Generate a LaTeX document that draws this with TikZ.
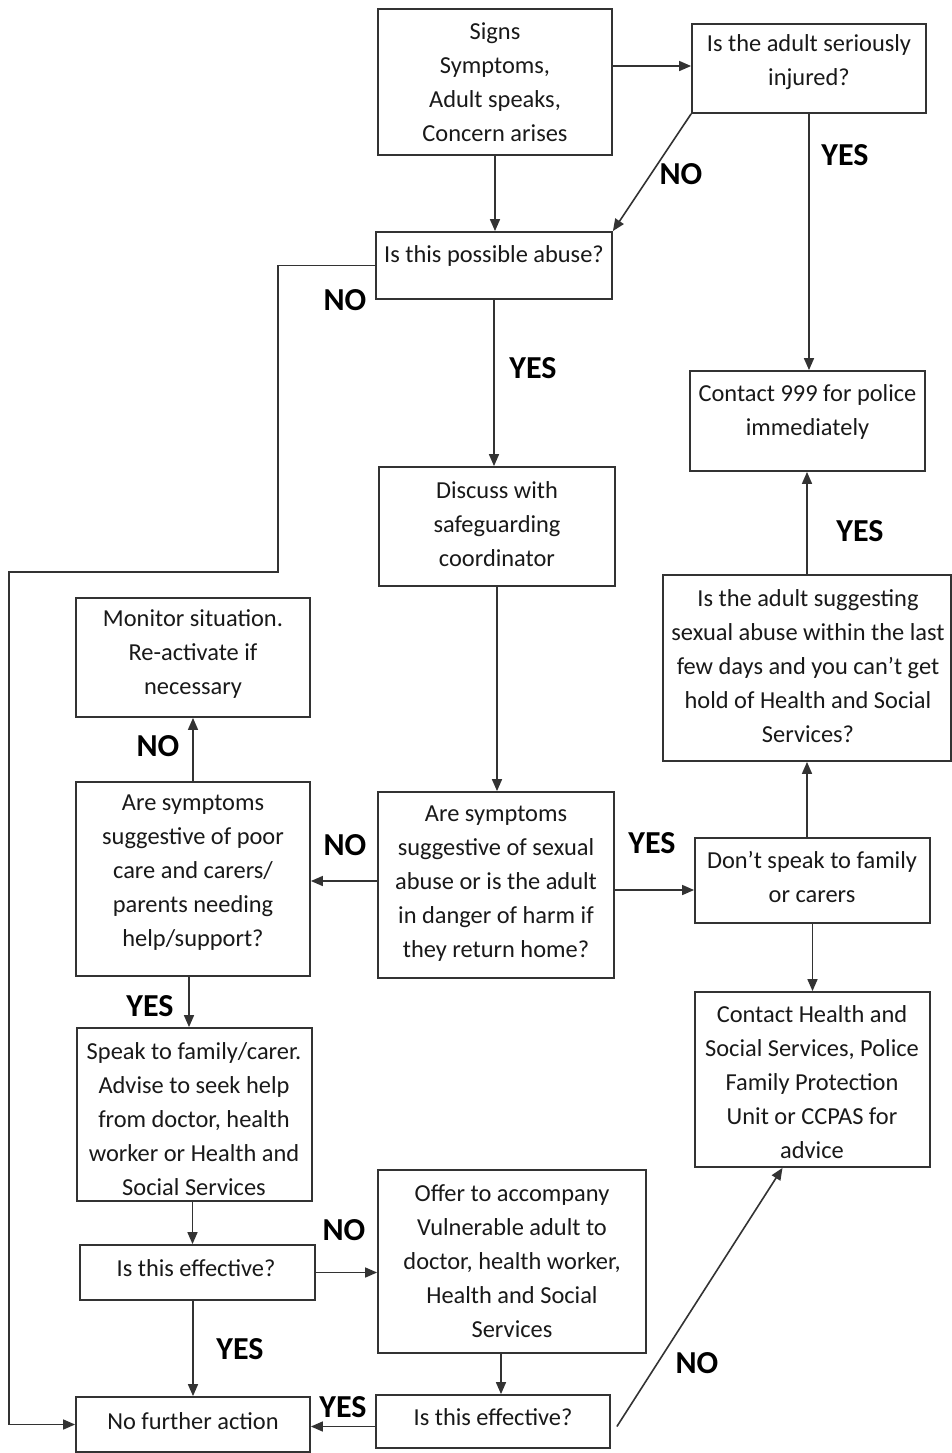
\documentclass[tikz,border=0pt]{standalone}
\usepackage{fontspec}
\setmainfont{Carlito}
\usetikzlibrary{arrows.meta}
\begin{document}
\begin{tikzpicture}[x=0.5pt,y=-0.5pt]
\tikzset{
 box/.style={draw=black!80, line width=0.9pt, inner sep=0pt},
 txt/.style={align=center, inner sep=0pt, font=\fontsize{12.2}{17}\selectfont, text=black!90},
 lbl/.style={font=\bfseries\fontsize{16}{16}\selectfont, text=black, inner sep=0pt},
 arr/.style={draw=black!80, line width=0.8pt, -{Triangle[length=6pt,width=5pt]}},
 ln/.style={draw=black!80, line width=0.8pt}
}
\useasboundingbox[fill=white] (0,0) rectangle (952,1453);

% boxes
\node[box, minimum width=117pt, minimum height=73pt] (sig) at (495,82) {};
\node[txt] (sigt) at (495,82.5) {Signs\\Symptoms,\\Adult speaks,\\Concern arises};

\node[box, minimum width=117pt, minimum height=44.5pt] (inj) at (809,68.5) {};
\node[txt] (injt) at (809,62.5) {Is the adult seriously\\injured?};

\node[box, minimum width=118pt, minimum height=33.5pt] (pa) at (494,265.5) {};
\node[txt] (pat) at (494,256) {Is this possible abuse?};

\node[box, minimum width=117.5pt, minimum height=50pt] (c999) at (807.5,421) {};
\node[txt] (c999t) at (807.5,411.5) {Contact 999 for police\\immediately};

\node[box, minimum width=118pt, minimum height=59.5pt] (disc) at (497,526.5) {};
\node[txt] (disct) at (497,524) {Discuss with\\safeguarding\\coordinator};

\node[box, minimum width=117pt, minimum height=59.5pt] (mon) at (193,657.5) {};
\node[txt] (mont) at (193,654.5) {Monitor situation.\\Re-activate if\\necessary};

\node[box, minimum width=144pt, minimum height=93pt] (sugg) at (807,668) {};
\node[txt] (suggt) at (808,666.5) {Is the adult suggesting\\sexual abuse within the last\\few days and you can’t get\\hold of Health and Social\\Services?};

\node[box, minimum width=117pt, minimum height=97pt] (poor) at (193,879) {};
\node[txt] (poort) at (193,873) {Are symptoms\\suggestive of poor\\care and carers/\\parents needing\\help/support?};

\node[box, minimum width=118pt, minimum height=93pt] (sex) at (496,885) {};
\node[txt] (sext) at (496,883.5) {Are symptoms\\suggestive of sexual\\abuse or is the adult\\in danger of harm if\\they return home?};

\node[box, minimum width=117.5pt, minimum height=42.5pt] (dont) at (812.5,880.5) {};
\node[txt] (dontt) at (812,876.5) {Don’t speak to family\\or carers};

\node[box, minimum width=117.5pt, minimum height=87.5pt] (chs) at (812.5,1079.5) {};
\node[txt] (chst) at (812,1082) {Contact Health and\\Social Services, Police\\Family Protection\\Unit or CCPAS for\\advice};

\node[box, minimum width=117.5pt, minimum height=86.5pt] (speak) at (194.5,1114.5) {};
\node[txt] (speakt) at (194,1119.5) {Speak to family/carer.\\Advise to seek help\\from doctor, health\\worker or Health and\\Social Services};

\node[box, minimum width=117.5pt, minimum height=27.5pt] (effl) at (197.5,1272.5) {};
\node[txt] (efflt) at (196,1268) {Is this effective?};

\node[box, minimum width=134pt, minimum height=91.5pt] (offer) at (512,1261.5) {};
\node[txt] (offert) at (512,1261) {Offer to accompany\\Vulnerable adult to\\doctor, health worker,\\Health and Social\\Services};

\node[box, minimum width=117pt, minimum height=27.5pt] (nfa) at (193,1424.5) {};
\node[txt] (nfat) at (193,1421) {No further action};

\node[box, minimum width=117pt, minimum height=26.5pt] (effr) at (493,1421.5) {};
\node[txt] (effrt) at (493,1417) {Is this effective?};

% connectors
\draw[arr] ([yshift=8pt]sig.east) -- ([yshift=8pt]sig.east -| inj.west);
\draw[arr] (sig.south) -- (sig.south |- pa.north);
\draw[arr] (inj.south west) -- (pa.north east);
\draw[arr] (inj.south) -- (inj.south |- c999.north);
\coordinate (k1) at (278,572);
\coordinate (k2) at (9,572);
\draw[arr] (pa.west) -| (k1) -- (k2) |- (nfa.west);
\draw[arr] (pa.south) -- (pa.south |- disc.north);
\draw[arr] (disc.south) -- (disc.south |- sex.north);
\draw[arr] ([yshift=2pt]sex.west) -- ([yshift=2pt]sex.west -| poor.east);
\draw[arr] ([yshift=-2.5pt]sex.east) -- ([yshift=-2.5pt]sex.east -| dont.west);
\draw[arr] (sugg.south |- dont.north) -- (sugg.south);
\draw[arr] (sugg.north) -- (sugg.north |- c999.south);
\draw[arr] (dont.south) -- (dont.south |- chs.north);
\draw[arr] (poor.north) -- (poor.north |- mon.south);
\draw[arr] ([xshift=-2pt]poor.south) -- ([xshift=-2pt]poor.south |- speak.north);
\draw[arr] ([xshift=-1pt]speak.south) -- ([xshift=-1pt]speak.south |- effl.north);
\draw[arr] (effl.east) -- (effl.east -| offer.west);
\draw[arr] (nfa.north |- effl.south) -- (nfa.north);
\draw[arr] ([xshift=4pt]effr.north |- offer.south) -- ([xshift=4pt]effr.north);
\draw[arr] ([yshift=-2.5pt]effr.west) -- ([yshift=-2.5pt]effr.west -| nfa.east);
\draw[arr] ([xshift=3pt,yshift=-2.5pt]effr.east) -- ([xshift=-15pt]chs.south);

% labels
\node[lbl] (l1) at (681,174) {NO};
\node[lbl] (l2) at (845,155) {YES};
\node[lbl] (l3) at (345,300) {NO};
\node[lbl] (l4) at (533,368) {YES};
\node[lbl] (l5) at (860,531) {YES};
\node[lbl] (l6) at (158,746) {NO};
\node[lbl] (l7) at (345,845) {NO};
\node[lbl] (l8) at (652,843) {YES};
\node[lbl] (l9) at (150,1006) {YES};
\node[lbl] (l10) at (344,1230) {NO};
\node[lbl] (l11) at (240,1349) {YES};
\node[lbl] (l12) at (343,1407) {YES};
\node[lbl] (l13) at (697,1363) {NO};
\end{tikzpicture}
\end{document}
